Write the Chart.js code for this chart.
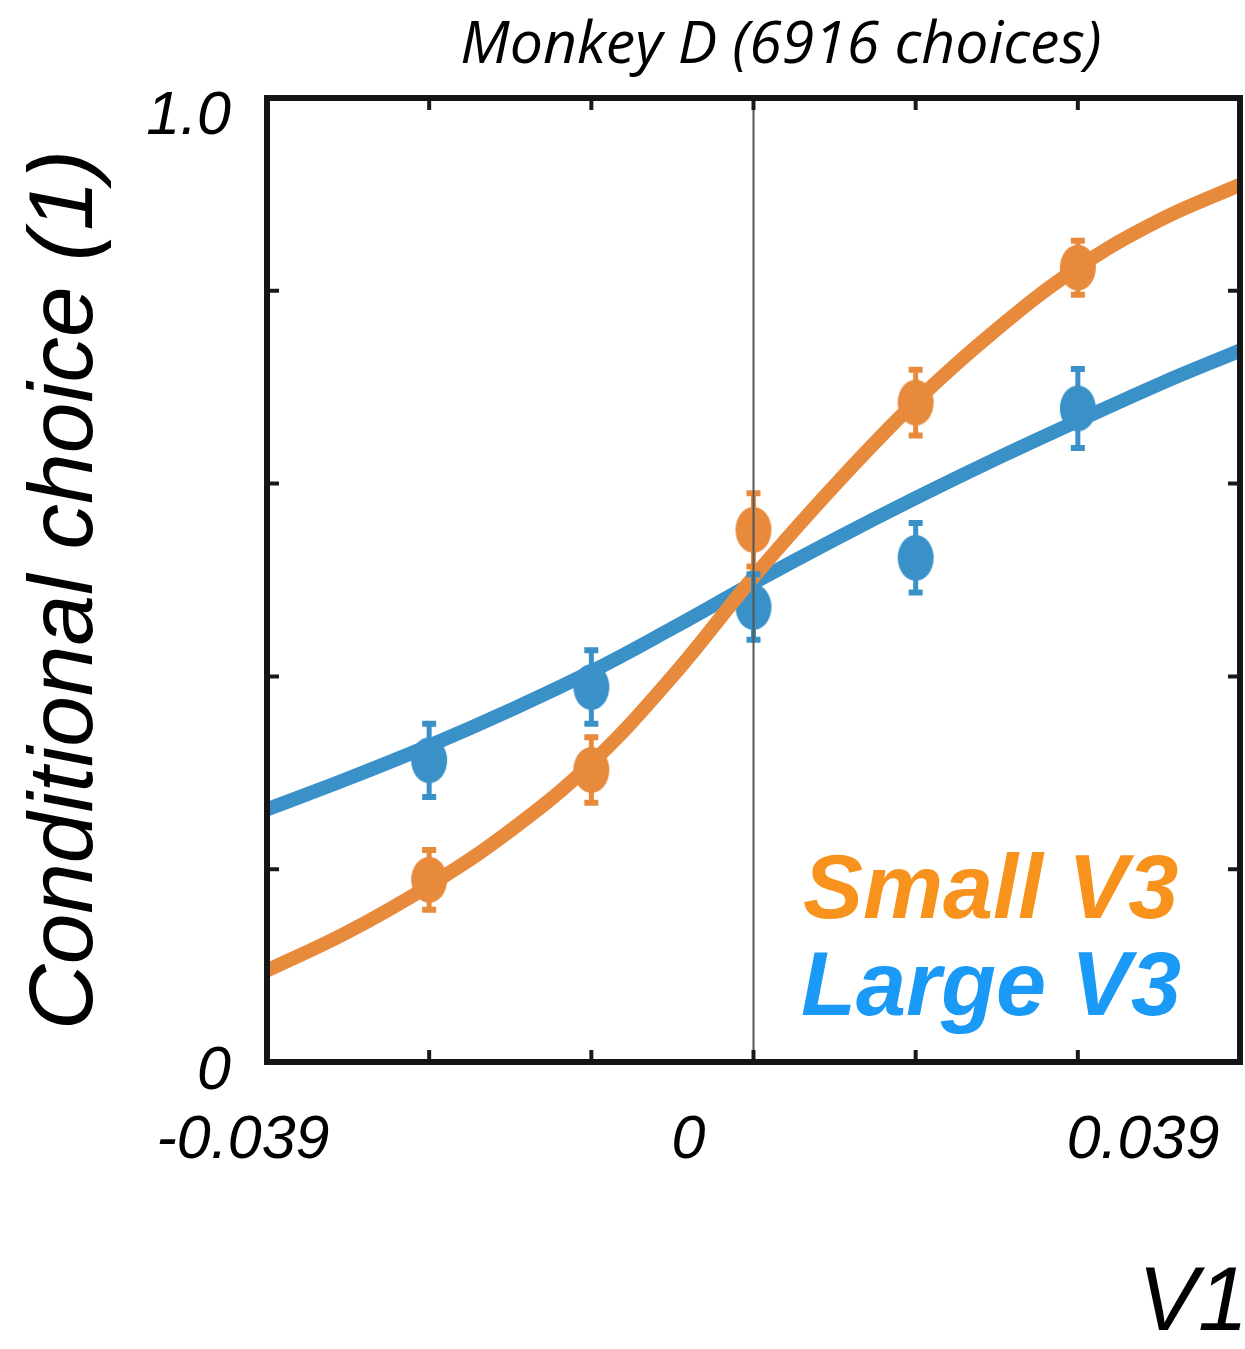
<!DOCTYPE html>
<html>
<head>
<meta charset="utf-8">
<title>Monkey D conditional choice</title>
<script src="https://cdn.jsdelivr.net/npm/chart.js@4.4.1/dist/chart.umd.min.js"></script>
<style>
  html, body { margin: 0; padding: 0; background: #fff; }
  #wrap { width: 1245px; height: 1349px; }
</style>
</head>
<body>
<div id="wrap"><canvas id="choiceChart" width="1245" height="1349"></canvas></div>
<script>
// V1 signal levels where choices were binned
const binX = [-0.026, -0.013, 0, 0.013, 0.026];
const smallMeans = [0.189, 0.303, 0.552, 0.684, 0.824];
const smallErr = [0.031, 0.034, 0.038, 0.034, 0.028];
const largeMeans = [0.313, 0.389, 0.472, 0.523, 0.678];
const largeErr = [0.038, 0.038, 0.034, 0.036, 0.041];

// fitted psychometric curves, read at half-bin steps
const fitX = [-0.039, -0.0325, -0.026, -0.0195, -0.013, -0.0065, 0, 0.0065, 0.013, 0.0195, 0.026, 0.0325, 0.039];
const smallFit = [0.095, 0.135, 0.183, 0.240, 0.310, 0.400, 0.503, 0.598, 0.685, 0.760, 0.824, 0.873, 0.910];
const largeFit = [0.262, 0.294, 0.328, 0.365, 0.405, 0.450, 0.497, 0.542, 0.585, 0.626, 0.665, 0.703, 0.738];

const xTickValues = [-0.039, 0, 0.039];
const xTickLabels = ['-0.039', '0', '0.039'];
const yTickValues = [0, 1];
const yTickLabels = ['0', '1.0'];
const minorY = [0.2, 0.4, 0.6, 0.8];

const seriesNames = ['Small V3', 'Large V3'];
const titleText = 'Monkey D (6916 choices)';
const yTitle = 'Conditional choice (1)';
const xTitle = 'V1';

const ORANGE = '#E88A3C';
const BLUE = '#3A91C8';
const ORANGE_TEXT = '#F7931C';
const BLUE_TEXT = '#1A9AF6';

function ellipseMarker(color) {
  const c = document.createElement('canvas');
  c.width = 38; c.height = 48;
  const g = c.getContext('2d');
  g.fillStyle = color;
  g.beginPath();
  g.ellipse(19, 24, 18, 23, 0, 0, Math.PI * 2);
  g.fill();
  return c;
}

const toPts = (xs, ys) => xs.map((x, i) => ({ x: x, y: ys[i] }));

// error bars, zero line, frame with inward ticks and all the text
const decorations = {
  id: 'decorations',
  afterDatasetsDraw(chart) {
    const ctx = chart.ctx;
    const xs = chart.scales.x, ys = chart.scales.y;
    const a = chart.chartArea;
    ctx.save();

    // error bars
    [[smallMeans, smallErr, ORANGE], [largeMeans, largeErr, BLUE]].forEach(([m, e, col]) => {
      ctx.strokeStyle = col;
      ctx.lineWidth = 5;
      binX.forEach((x, i) => {
        const px = xs.getPixelForValue(x);
        const top = ys.getPixelForValue(m[i] + e[i]);
        const bot = ys.getPixelForValue(m[i] - e[i]);
        ctx.beginPath();
        ctx.moveTo(px, top); ctx.lineTo(px, bot);
        ctx.stroke();
        ctx.lineWidth = 6;
        ctx.beginPath();
        ctx.moveTo(px - 7, top); ctx.lineTo(px + 7, top);
        ctx.moveTo(px - 7, bot); ctx.lineTo(px + 7, bot);
        ctx.stroke();
        ctx.lineWidth = 5;
      });
    });

    // vertical line at zero
    const x0 = xs.getPixelForValue(0);
    ctx.strokeStyle = '#555';
    ctx.lineWidth = 2;
    ctx.beginPath();
    ctx.moveTo(x0, a.top); ctx.lineTo(x0, a.bottom);
    ctx.stroke();

    // inward ticks
    ctx.strokeStyle = '#1a1a1a';
    ctx.lineWidth = 4;
    ctx.beginPath();
    binX.forEach(x => {
      const px = xs.getPixelForValue(x);
      ctx.moveTo(px, a.bottom); ctx.lineTo(px, a.bottom - 12);
      ctx.moveTo(px, a.top); ctx.lineTo(px, a.top + 12);
    });
    minorY.forEach(v => {
      const py = ys.getPixelForValue(v);
      ctx.moveTo(a.left, py); ctx.lineTo(a.left + 12, py);
      ctx.moveTo(a.right, py); ctx.lineTo(a.right - 12, py);
    });
    ctx.stroke();

    // frame
    ctx.lineWidth = 6;
    ctx.strokeStyle = '#151515';
    ctx.strokeRect(a.left, a.top, a.right - a.left, a.bottom - a.top);

    // tick labels
    ctx.fillStyle = '#000';
    ctx.font = 'italic 61px "Liberation Sans", Arial, sans-serif';
    ctx.textBaseline = 'alphabetic';
    ctx.textAlign = 'center';
    const xShift = [-24, -65, -97];
    xTickValues.forEach((v, i) => {
      ctx.fillText(xTickLabels[i], xs.getPixelForValue(v) + xShift[i], 1158);
    });
    ctx.textAlign = 'right';
    const yBase = [1089, 134];
    const yRight = [231, 231];
    yTickValues.forEach((v, i) => {
      ctx.fillText(yTickLabels[i], yRight[i], yBase[i]);
    });

    // title
    ctx.textAlign = 'center';
    ctx.font = 'italic 59px "Open Sans", "Noto Sans", sans-serif';
    ctx.fillText(titleText, 781, 63);

    // x axis name
    ctx.textAlign = 'left';
    ctx.font = 'italic 90px "Liberation Sans", Arial, sans-serif';
    ctx.fillText(xTitle, 1138, 1330);

    // y axis name
    ctx.save();
    ctx.translate(92, 590);
    ctx.rotate(-Math.PI / 2);
    ctx.textAlign = 'center';
    ctx.font = 'italic 91px "Liberation Sans", Arial, sans-serif';
    ctx.fillText(yTitle, 0, 0);
    ctx.restore();

    // series names
    ctx.textAlign = 'left';
    ctx.font = 'italic bold 90px "Liberation Sans", Arial, sans-serif';
    ctx.fillStyle = ORANGE_TEXT;
    ctx.fillText(seriesNames[0], 803, 918);
    ctx.fillStyle = BLUE_TEXT;
    ctx.fillText(seriesNames[1], 801, 1015);

    ctx.restore();
  }
};

new Chart(document.getElementById('choiceChart'), {
  type: 'scatter',
  data: {
    datasets: [
      {
        label: seriesNames[0] + ' fit',
        data: toPts(fitX, smallFit),
        showLine: true,
        borderColor: ORANGE,
        borderWidth: 14,
        tension: 0.4,
        pointRadius: 0
      },
      {
        label: seriesNames[1] + ' fit',
        data: toPts(fitX, largeFit),
        showLine: true,
        borderColor: BLUE,
        borderWidth: 14,
        tension: 0.4,
        pointRadius: 0
      },
      {
        label: seriesNames[0],
        data: toPts(binX, smallMeans),
        pointStyle: ellipseMarker(ORANGE),
        showLine: false
      },
      {
        label: seriesNames[1],
        data: toPts(binX, largeMeans),
        pointStyle: ellipseMarker(BLUE),
        showLine: false
      }
    ]
  },
  options: {
    responsive: false,
    animation: false,
    events: [],
    layout: { padding: { left: 267, right: 5, top: 98, bottom: 287 } },
    plugins: {
      legend: { display: false },
      tooltip: { enabled: false }
    },
    scales: {
      x: { type: 'linear', min: -0.039, max: 0.039, display: false },
      y: { type: 'linear', min: 0, max: 1, display: false }
    }
  },
  plugins: [decorations]
});
</script>
</body>
</html>
